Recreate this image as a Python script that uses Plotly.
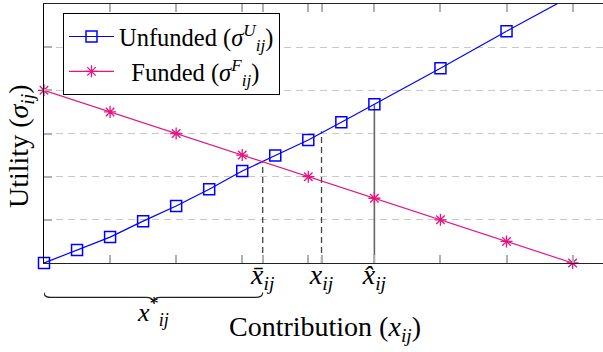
import plotly.graph_objects as go

# ---- data ----
unfunded_x = [0, 0.5, 1, 1.5, 2, 2.5, 3, 3.5, 4, 4.5, 5, 6, 7]
unfunded_y = [0.00, 0.30, 0.60, 0.97, 1.32, 1.71, 2.13, 2.49, 2.85, 3.26, 3.68, 4.51, 5.37]
unfunded_ext_x = [7, 8]
unfunded_ext_y = [5.37, 6.20]

funded_x = [0, 1, 2, 3, 4, 5, 6, 7, 8]
funded_y = [4.0, 3.5, 3.0, 2.5, 2.0, 1.5, 1.0, 0.5, 0.0]

x_bar, x_mid, x_hat = 3.31, 4.20, 5.0
x_bar_top, x_mid_top, x_hat_top = 2.35, 3.05, 3.68

int_ticks = [1, 2, 3, 4, 5, 6, 7, 8]
y_ticks = [1, 2, 3, 4, 5]

BLUE = "#0000ff"
PINK = "#e5157f"
FONT = "Liberation Serif, Times New Roman, DejaVu Serif, serif"

lbl_bar = "<i>x\u0304</i><sub><i>ij</i></sub>"
lbl_mid = "<i>x</i><sub><i>ij</i></sub>"
lbl_hat = "<i>x\u0302</i><sub><i>ij</i></sub>"

tickvals = sorted(set(int_ticks + [x_bar, x_mid]))
ticktext = []
for v in tickvals:
    if v == x_bar:
        ticktext.append(lbl_bar)
    elif v == x_mid:
        ticktext.append(lbl_mid)
    elif v == x_hat:
        ticktext.append(lbl_hat)
    else:
        ticktext.append("")

fig = go.Figure()

# reference vertical lines
fig.add_trace(go.Scatter(x=[x_bar, x_bar], y=[0, x_bar_top], mode="lines",
                         line=dict(color="#444", width=1.3, dash="6px,4px"),
                         showlegend=False, hoverinfo="skip"))
fig.add_trace(go.Scatter(x=[x_mid, x_mid], y=[0, x_mid_top], mode="lines",
                         line=dict(color="#444", width=1.3, dash="6px,4px"),
                         showlegend=False, hoverinfo="skip"))
fig.add_trace(go.Scatter(x=[x_hat, x_hat], y=[0, x_hat_top], mode="lines",
                         line=dict(color="#666", width=1.6),
                         showlegend=False, hoverinfo="skip"))

fig.add_trace(go.Scatter(x=unfunded_ext_x, y=unfunded_ext_y, mode="lines",
                         line=dict(color=BLUE, width=1.2),
                         showlegend=False, hoverinfo="skip"))
fig.add_trace(go.Scatter(x=unfunded_x, y=unfunded_y, mode="lines+markers",
                         name="Unfunded (<i>σ</i><sup><i>U</i></sup><sub><i>ij</i></sub>)",
                         line=dict(color=BLUE, width=1.2),
                         marker=dict(symbol="square-open", size=11, color=BLUE,
                                     line=dict(width=1.5, color=BLUE)),
                         cliponaxis=False))
fig.add_trace(go.Scatter(x=funded_x, y=funded_y, mode="lines+markers",
                         name="\u2002Funded (<i>σ</i><sup><i>F</i></sup><sub><i>ij</i></sub>)",
                         line=dict(color=PINK, width=1.2),
                         marker=dict(symbol="asterisk-open", size=10, color=PINK,
                                     line=dict(width=1.3, color=PINK)),
                         cliponaxis=False))

# curly brace under the axis from 0 to x_bar
yt, ym, yb = -0.114, -0.133, -0.153
d = 0.11
xm = x_bar / 2
brace = (f"M 0,{yt} Q 0,{ym} {d},{ym} L {xm-d},{ym} Q {xm},{ym} {xm},{yb} "
         f"Q {xm},{ym} {xm+d},{ym} L {x_bar-d},{ym} Q {x_bar},{ym} {x_bar},{yt}")
fig.add_shape(type="path", path=brace, xref="x", yref="paper",
              line=dict(color="#222", width=1.2))

fig.add_annotation(x=xm, xref="x", y=-0.188, yref="paper",
                   xanchor="center", yanchor="middle",
                   text="<i>x</i><sup>*</sup><sub><i>ij</i></sub>",
                   showarrow=False, font=dict(size=26, family=FONT, color="black"))
fig.add_annotation(x=0.502, xref="paper", y=-0.252, yref="paper",
                   xanchor="center", yanchor="middle",
                   text="Contribution (<i>x</i><sub><i>ij</i></sub>)",
                   showarrow=False, font=dict(size=28, family=FONT, color="black"))
fig.add_annotation(x=-0.042, xref="paper", y=0.45, yref="paper", textangle=-90,
                   xanchor="center", yanchor="middle",
                   text="Utility (<i>σ</i><sub><i>ij</i></sub>)",
                   showarrow=False, font=dict(size=28, family=FONT, color="black"))

fig.update_layout(
    width=603, height=352,
    margin=dict(l=44, r=0, t=4, b=89),
    paper_bgcolor="white", plot_bgcolor="white",
    font=dict(family=FONT, size=22, color="black"),
    showlegend=True,
    legend=dict(x=0.034, y=0.965, xanchor="left", yanchor="top",
                bordercolor="black", borderwidth=1, bgcolor="white",
                font=dict(size=24.5, family=FONT), itemwidth=45),
    xaxis=dict(range=[0, 8.46], showgrid=False, zeroline=False,
               showline=True, linecolor="#222", linewidth=1.3, mirror="ticks",
               ticks="inside", ticklen=8, tickwidth=1.5, tickcolor="#b0b0b0",
               tickmode="array", tickvals=tickvals, ticktext=ticktext,
               ticklabelstandoff=-14,
               tickfont=dict(size=28, family=FONT)),
    yaxis=dict(range=[0, 6], showgrid=True, gridcolor="#c8c8c8", gridwidth=1,
               griddash="7px,5px", zeroline=False,
               showline=True, linecolor="black", linewidth=1.3,
               ticks="inside", ticklen=8, tickwidth=1.5, tickcolor="#b0b0b0",
               tickmode="array", tickvals=y_ticks, showticklabels=False),
)

fig.write_html("out.html", post_script="document.body.style.margin='0';",
               config={"displayModeBar": False})
